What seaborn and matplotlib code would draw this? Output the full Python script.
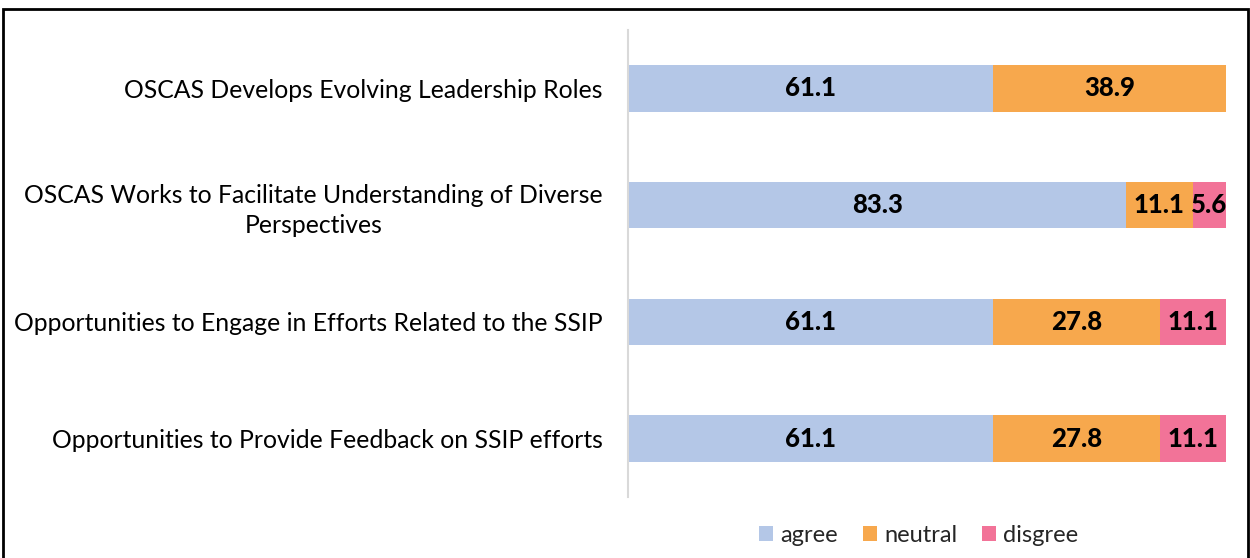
import matplotlib
matplotlib.use("Agg")
import matplotlib.pyplot as plt
import seaborn as sns
import pandas as pd
from matplotlib.patches import Rectangle, Patch

categories = [
    "OSCAS Develops Evolving Leadership Roles",
    "OSCAS Works to Facilitate Understanding of Diverse\nPerspectives",
    "Opportunities to Engage in Efforts Related to the SSIP",
    "Opportunities to Provide Feedback on SSIP efforts",
]
agree = [61.1, 83.3, 61.1, 61.1]
neutral = [38.9, 11.1, 27.8, 27.8]
disagree = [0.0, 5.6, 11.1, 11.1]
series_names = ["agree", "neutral", "disgree"]
colors = ["#B4C7E7", "#F7A84D", "#F27398"]

sns.set_theme(style="white")
plt.rcParams["font.family"] = ["Lato", "DejaVu Sans"]

df = pd.DataFrame({"cat": categories, "agree": agree, "neutral": neutral, "disagree": disagree})
df["c2"] = df["agree"] + df["neutral"]
df["c3"] = df["c2"] + df["disagree"]

fig = plt.figure(figsize=(12.5, 5.58), dpi=100)
ax = fig.add_axes([0.5024, 0.1093, 0.4784, 0.8369])

for col, color in zip(["c3", "c2", "agree"], [colors[2], colors[1], colors[0]]):
    sns.barplot(data=df, y="cat", x=col, color=color, orient="h", width=0.4,
                saturation=1, ax=ax, linewidth=0)

# labels
for i in range(len(categories)):
    starts = [0, agree[i], agree[i] + neutral[i]]
    vals = [agree[i], neutral[i], disagree[i]]
    for s, v in zip(starts, vals):
        if v > 0:
            ax.text(s + v / 2, i, f"{v:.1f}", ha="center", va="center",
                    fontsize=18.5, fontweight="black", color="black")

ax.set_xlim(0, 100)
ax.set_ylim(3.5, -0.5)
ax.set_xlabel("")
ax.set_ylabel("")
ax.set_xticks([])
for s in ["top", "right", "bottom"]:
    ax.spines[s].set_visible(False)
ax.spines["left"].set_color("#D9D9D9")
ax.spines["left"].set_linewidth(1.5)
ax.tick_params(axis="y", length=0, pad=18)
for lbl in ax.get_yticklabels():
    lbl.set_fontsize(17.8)
    lbl.set_multialignment("center")
    lbl.set_linespacing(1.35)
    lbl.set_color("black")

handles = [Patch(facecolor=c, edgecolor="none") for c in colors]
fig.legend(handles, series_names, loc="center", bbox_to_anchor=(0.735, 0.04),
           ncol=3, frameon=False, fontsize=17, handlelength=0.6, handleheight=0.6,
           handletextpad=0.3, columnspacing=1.05)

fig.patches.append(Rectangle((0.002, -0.05), 0.996, 1.033, transform=fig.transFigure,
                             fill=False, edgecolor="black", linewidth=2))

fig.savefig("out.png", dpi=100)
